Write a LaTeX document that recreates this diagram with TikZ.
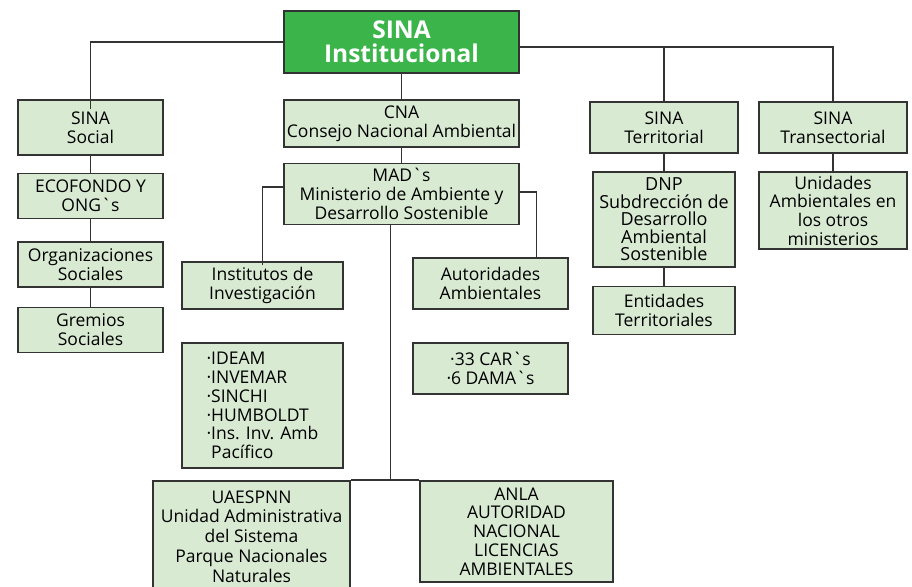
\documentclass[tikz,border=0pt]{standalone}
\usepackage{fontspec}
\setmainfont{Open Sans}[Ligatures=TeXOff]
\usetikzlibrary{positioning}
\definecolor{sinagreen}{HTML}{3BB54A}
\definecolor{boxgreen}{HTML}{D9EAD3}
\definecolor{linegray}{HTML}{333333}

\begin{document}
\begin{tikzpicture}[
      x=1pt,y=-1pt,
      caja/.style={rectangle,draw=linegray,fill=boxgreen,line width=1.5pt,inner sep=0pt,
                   align=center,font=\fontsize{17.5}{18.7}\selectfont},
      raiz/.style={caja,fill=sinagreen,text=white,font=\fontsize{24.5}{24}\selectfont\bfseries},
      con/.style={linegray,line width=1.7pt}
    ]
    \useasboundingbox (0,0) rectangle (912,586);

    \node[raiz,minimum width=235pt,minimum height=62pt] (sina) at (401.5,42) {SINA\\Institucional};

    % SINA social
    \node[caja,minimum width=145pt,minimum height=55pt] (social) at (90.5,127.5) {SINA\\Social};
    \node[caja,minimum width=145pt,minimum height=45pt,below=17pt of social] (ecofondo) {ECOFONDO Y\\ONG`s};
    \node[caja,minimum width=145pt,minimum height=45pt,below=22pt of ecofondo] (orgs) {Organizaciones\\Sociales};
    \node[caja,minimum width=145pt,minimum height=45pt,below=19pt of orgs] (gremios) {Gremios\\Sociales};

    % CNA y MADS
    \node[caja,minimum width=235pt,minimum height=47pt] (cna) at (401.5,123.5) {CNA\\Consejo Nacional Ambiental};
    \node[caja,minimum width=235pt,minimum height=61pt,below=15pt of cna] (mads) {MAD`s\\Ministerio de Ambiente y\\Desarrollo Sostenible};
    \node[caja,minimum width=161pt,minimum height=47pt] (inst) at (262.5,285.5) {Institutos de\\Investigación};
    \node[caja,minimum width=161pt,minimum height=125pt,align=left] (ideam) at (262.5,405.5)
      {·IDEAM\\·INVEMAR\\·SINCHI\\·HUMBOLDT\\·Ins. Inv. Amb\\\hphantom{·}Pacífico};
    \node[caja,minimum width=155pt,minimum height=51pt] (autor) at (490.5,283.5) {Autoridades\\Ambientales};
    \node[caja,minimum width=155pt,minimum height=51pt] (cars) at (490.5,368.5) {·33 CAR`s\\·6 DAMA`s};
    \node[caja,minimum width=197pt,minimum height=111pt,font=\fontsize{17.5}{19.8}\selectfont] (uaespnn) at (251.5,536.5)
      {UAESPNN\\Unidad Administrativa\\del Sistema\\Parque Nacionales\\Naturales};
    \node[caja,minimum width=193pt,minimum height=101pt] (anla) at (516.5,531.5)
      {ANLA\\AUTORIDAD\\NACIONAL\\LICENCIAS\\AMBIENTALES};

    % SINA territorial
    \node[caja,minimum width=148pt,minimum height=51pt] (terr) at (664,127.5) {SINA\\Territorial};
    \node[caja,minimum width=142pt,minimum height=95pt,font=\fontsize{18}{17.5}\selectfont] (dnp) at (664,219.5)
      {DNP\\Subdrección de\\Desarrollo\\Ambiental\\Sostenible};
    \node[caja,minimum width=142pt,minimum height=48pt,below=18pt of dnp] (entid) {Entidades\\Territoriales};

    % SINA transectorial
    \node[caja,minimum width=148pt,minimum height=51pt] (trans) at (833,127.5) {SINA\\Transectorial};
    \node[caja,minimum width=148pt,minimum height=77pt] (unid) at (833,210.5)
      {Unidades\\Ambientales en\\los otros\\ministerios};

    \draw[con] (sina.west) -| ([yshift=-10pt]social.north);
    \draw[con] ([yshift=-5pt]sina.east) -| (terr.north);
    \draw[con] ([yshift=-5pt]sina.east) -| (trans.north);
    \draw[con] (sina) -- (cna);
    \draw[con] (cna) -- (mads);
    \draw[con] (social) -- (ecofondo);
    \draw[con] (ecofondo) -- (orgs);
    \draw[con] (orgs) -- (gremios);
    \draw[con] ([yshift=7pt]mads.west) -| ([yshift=-4pt]inst.north);
    \draw[con] ([yshift=2pt]mads.east) -| ([xshift=46pt]autor.north);
    \draw[con] ([xshift=-11pt]mads.south) |- (anla.north west);
    \draw[con] (uaespnn.north east) -- (anla.north west);
    \draw[con] (terr) -- (dnp);
    \draw[con] (dnp) -- (entid);
    \draw[con] (trans) -- (unid);

  \end{tikzpicture}
\end{document}
